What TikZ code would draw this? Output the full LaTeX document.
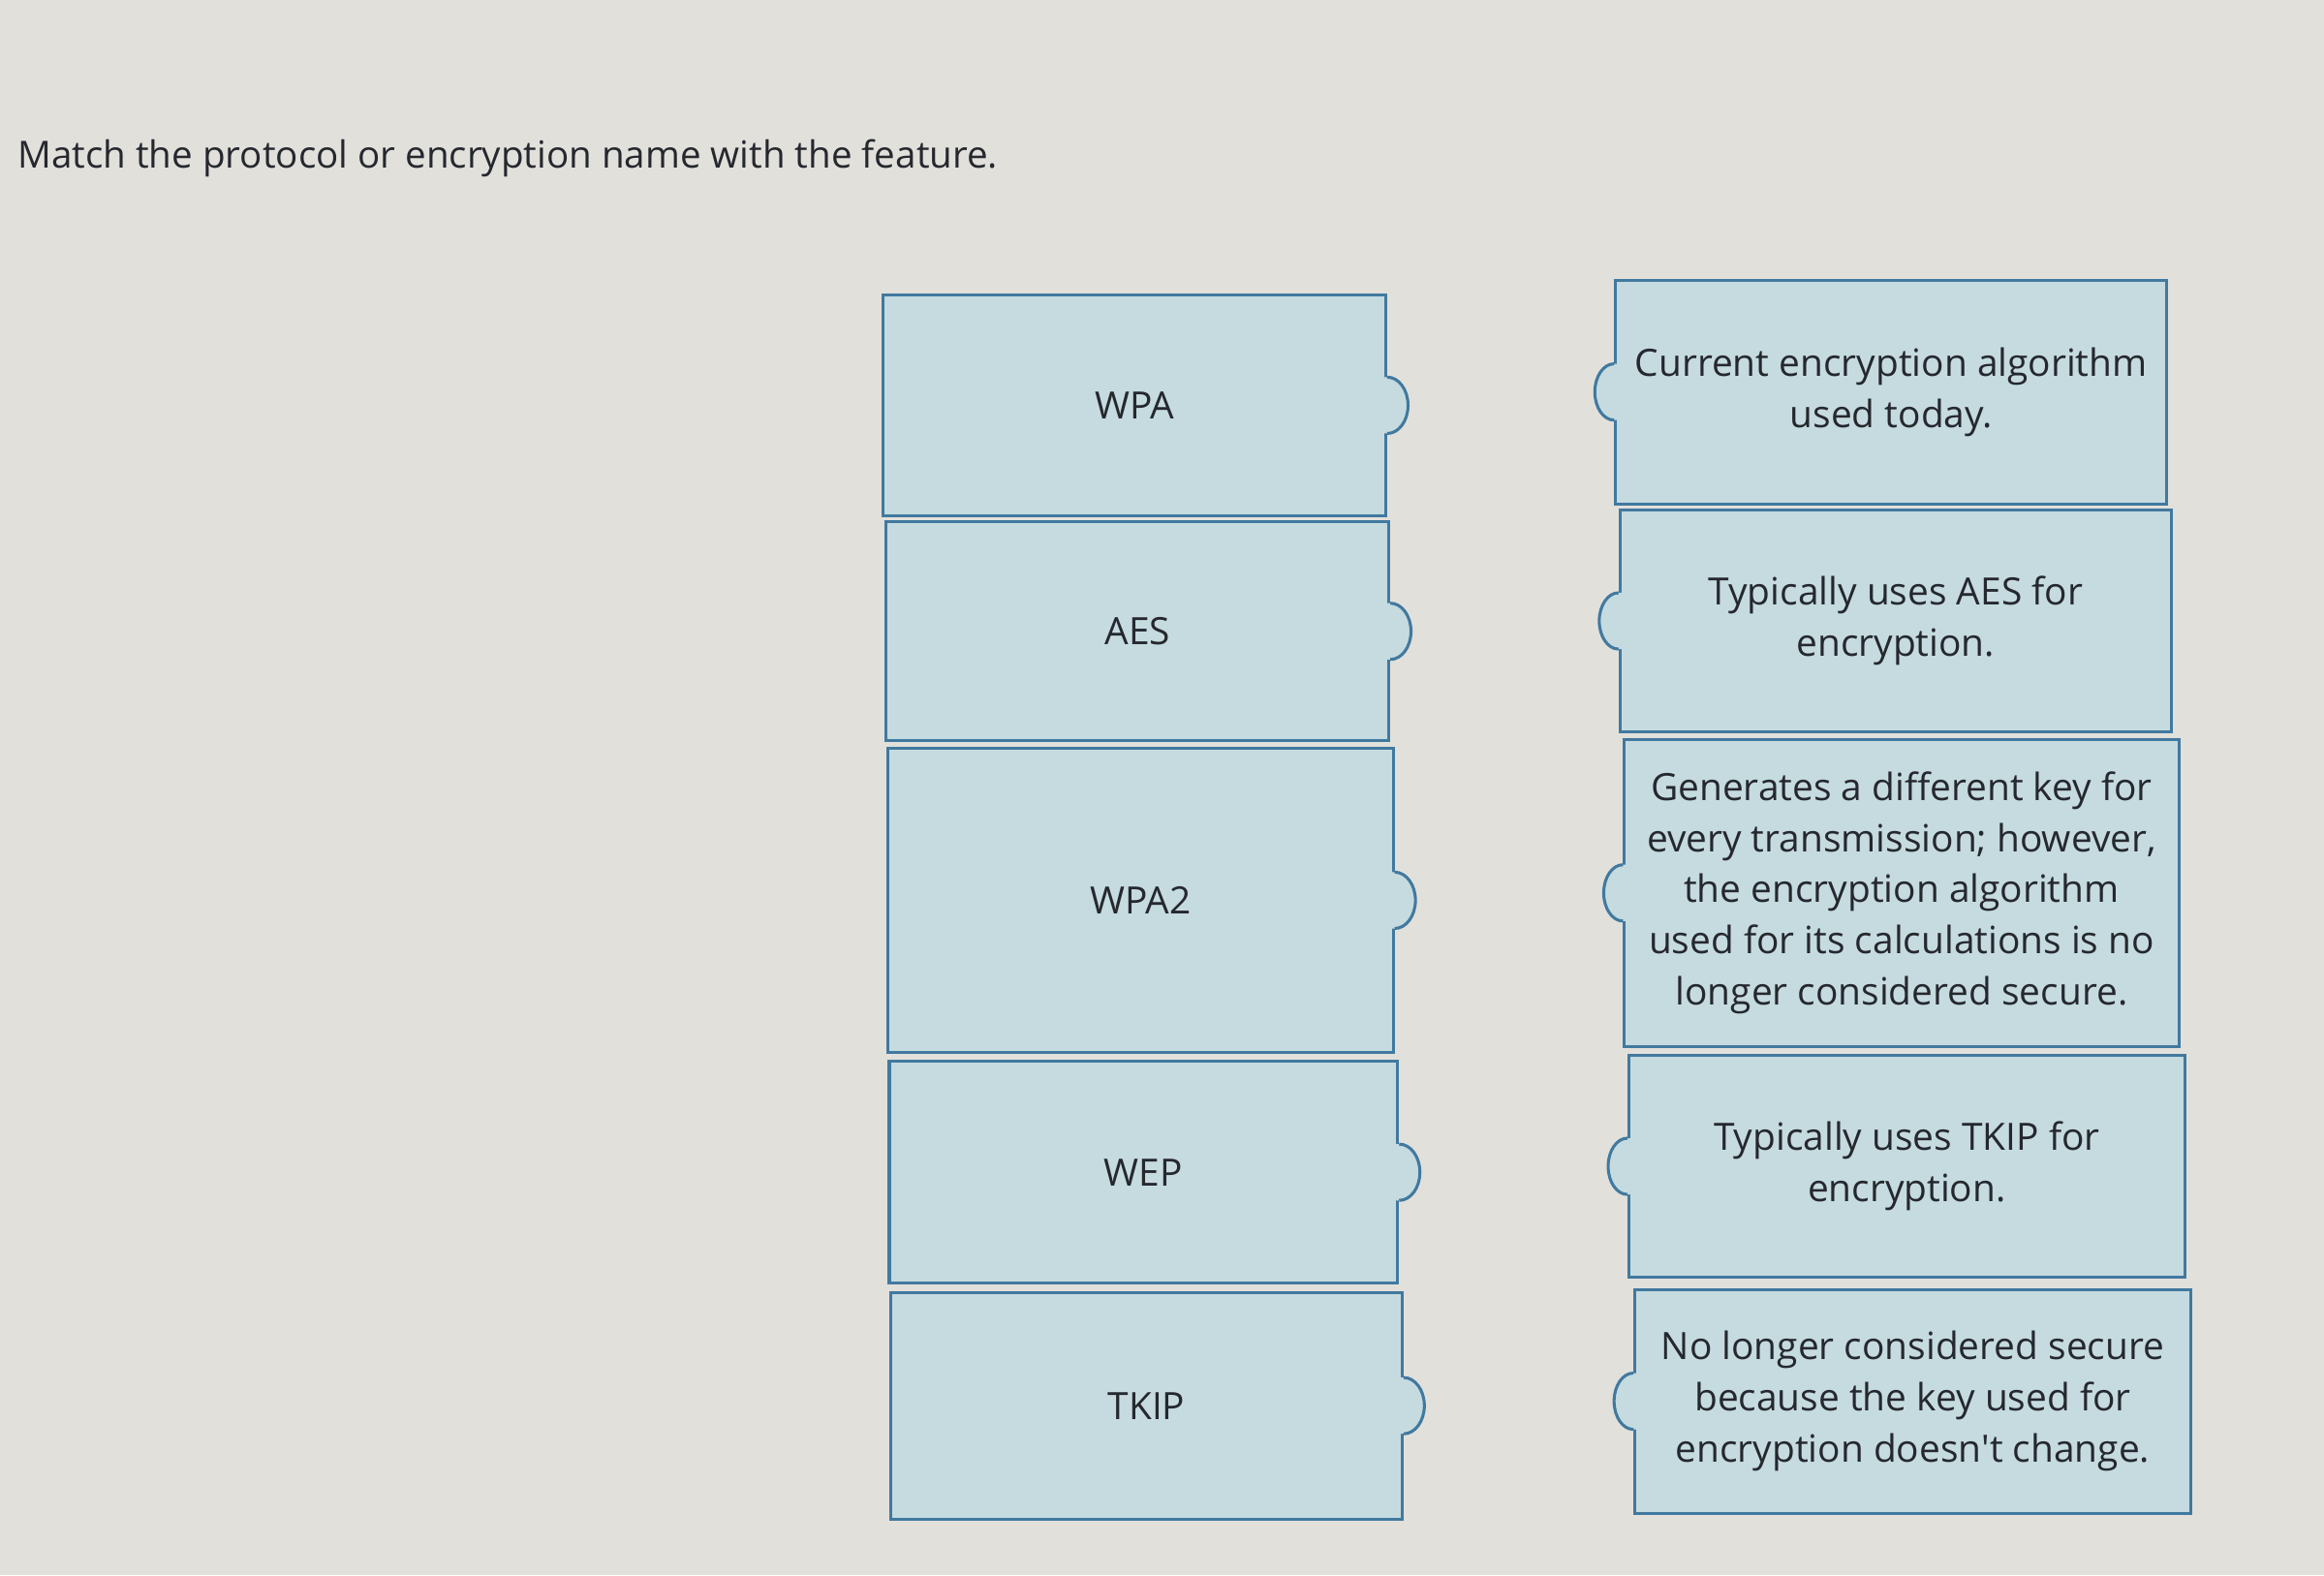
\documentclass[tikz,border=0pt]{standalone}
\usepackage{fontspec}
\setmainfont{Open Sans}
\definecolor{paper}{HTML}{E2E0DB}
\definecolor{cardfill}{HTML}{C5DBE0}
\definecolor{cardline}{HTML}{41799F}
\definecolor{ink}{HTML}{25282E}
\begin{document}
\begin{tikzpicture}[x=0.5pt, y=0.5pt, ink,
  keycard/.style={draw=cardline, fill=cardfill, line width=1pt, inner sep=0pt,
    font=\fontsize{12.7}{17.25}\selectfont},
  featcard/.style={keycard, align=center},
  tabline/.style={draw=cardline, line width=1pt}]
  \fill[paper] (0,0) rectangle (1568,1063);
  \useasboundingbox (0,0) rectangle (1568,1063);

  \node[anchor=west, font=\fontsize{12.6}{15}\selectfont] (title) at (5,956) {Match the protocol or encryption name with the feature.};

  % protocol / encryption names
  \node[keycard, minimum width=169.5pt, minimum height=74.5pt] (WPA) at (765.5,789.5) {WPA};
  \node[keycard, minimum width=169.5pt, minimum height=74pt] (AES) at (767.5,637) {AES};
  \node[keycard, minimum width=170.5pt, minimum height=102.5pt] (WPAII) at (769.5,455.5) {WPA2};
  \node[keycard, minimum width=171.5pt, minimum height=75pt] (WEP) at (771.5,272) {WEP};
  \node[keycard, minimum width=172.5pt, minimum height=76.5pt] (TKIP) at (773.5,114.5) {TKIP};

  % features
  \node[featcard, minimum width=186pt, minimum height=75.5pt] (CUR) at (1276,798.5) {Current encryption algorithm\\used today.};
  \node[featcard, minimum width=186pt, minimum height=75pt] (USEAES) at (1279,644) {Typically uses AES for\\encryption.};
  \node[featcard, minimum width=187pt, minimum height=103.5pt] (GEN) at (1283,460.5) {Generates a different key for\\every transmission; however,\\the encryption algorithm\\used for its calculations is no\\longer considered secure.};
  \node[featcard, minimum width=187.5pt, minimum height=75pt] (USETKIP) at (1286.5,276) {Typically uses TKIP for\\encryption.};
  \node[featcard, minimum width=187.5pt, minimum height=75.5pt] (NOL) at (1290.5,117.5) {No longer considered secure\\because the key used for\\encryption doesn\textquotesingle t change.};

  % tabs on the right of the names
  \fill[cardfill] (WPA.east) ++(-3,19) -- ++(3,0) arc[start angle=90, end angle=-90, x radius=14, y radius=19] -- ++(-3,0) -- cycle;
  \draw[tabline] (WPA.east) ++(0,19) arc[start angle=90, end angle=-90, x radius=14, y radius=19];
  \fill[cardfill] (AES.east) ++(-3,19) -- ++(3,0) arc[start angle=90, end angle=-90, x radius=14, y radius=19] -- ++(-3,0) -- cycle;
  \draw[tabline] (AES.east) ++(0,19) arc[start angle=90, end angle=-90, x radius=14, y radius=19];
  \fill[cardfill] (WPAII.east) ++(-3,19) -- ++(3,0) arc[start angle=90, end angle=-90, x radius=14, y radius=19] -- ++(-3,0) -- cycle;
  \draw[tabline] (WPAII.east) ++(0,19) arc[start angle=90, end angle=-90, x radius=14, y radius=19];
  \fill[cardfill] (WEP.east) ++(-3,19) -- ++(3,0) arc[start angle=90, end angle=-90, x radius=14, y radius=19] -- ++(-3,0) -- cycle;
  \draw[tabline] (WEP.east) ++(0,19) arc[start angle=90, end angle=-90, x radius=14, y radius=19];
  \fill[cardfill] (TKIP.east) ++(-3,19) -- ++(3,0) arc[start angle=90, end angle=-90, x radius=14, y radius=19] -- ++(-3,0) -- cycle;
  \draw[tabline] (TKIP.east) ++(0,19) arc[start angle=90, end angle=-90, x radius=14, y radius=19];

  % tabs on the left of the features
  \fill[cardfill] (CUR.west) ++(3,19) -- ++(-3,0) arc[start angle=90, end angle=270, x radius=13, y radius=19] -- ++(3,0) -- cycle;
  \draw[tabline] (CUR.west) ++(0,19) arc[start angle=90, end angle=270, x radius=13, y radius=19];
  \fill[cardfill] (USEAES.west) ++(3,19) -- ++(-3,0) arc[start angle=90, end angle=270, x radius=13, y radius=19] -- ++(3,0) -- cycle;
  \draw[tabline] (USEAES.west) ++(0,19) arc[start angle=90, end angle=270, x radius=13, y radius=19];
  \fill[cardfill] (GEN.west) ++(3,19) -- ++(-3,0) arc[start angle=90, end angle=270, x radius=13, y radius=19] -- ++(3,0) -- cycle;
  \draw[tabline] (GEN.west) ++(0,19) arc[start angle=90, end angle=270, x radius=13, y radius=19];
  \fill[cardfill] (USETKIP.west) ++(3,19) -- ++(-3,0) arc[start angle=90, end angle=270, x radius=13, y radius=19] -- ++(3,0) -- cycle;
  \draw[tabline] (USETKIP.west) ++(0,19) arc[start angle=90, end angle=270, x radius=13, y radius=19];
  \fill[cardfill] (NOL.west) ++(3,19) -- ++(-3,0) arc[start angle=90, end angle=270, x radius=13, y radius=19] -- ++(3,0) -- cycle;
  \draw[tabline] (NOL.west) ++(0,19) arc[start angle=90, end angle=270, x radius=13, y radius=19];
\end{tikzpicture}
\end{document}
